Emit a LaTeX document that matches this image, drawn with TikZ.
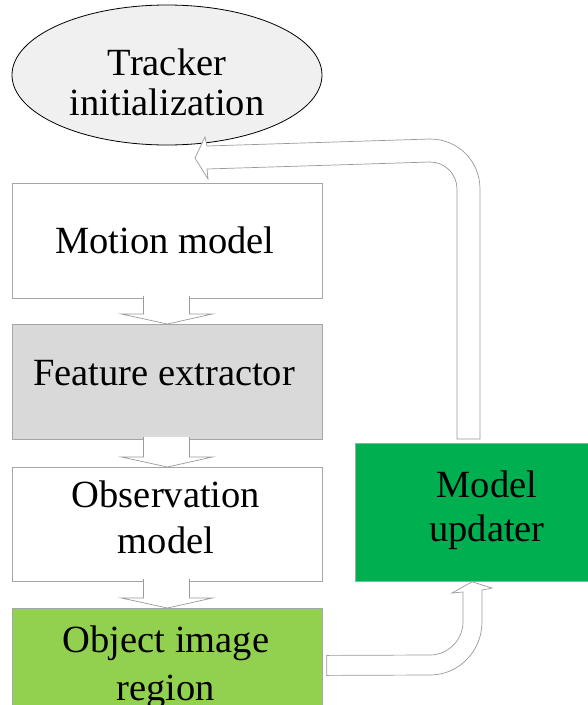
\documentclass[tikz,border=0pt]{standalone}
\usepackage{fontspec}
\setmainfont{Liberation Serif}
\usetikzlibrary{calc,shapes.geometric}
\pgfdeclarelayer{bg}
\pgfsetlayers{bg,main}
\definecolor{boxgray}{HTML}{A6A6A6}
\definecolor{arrgray}{HTML}{9A9A9A}
\definecolor{featfill}{HTML}{D9D9D9}
\definecolor{objfill}{HTML}{92D050}
\definecolor{updfill}{HTML}{00B050}
\definecolor{ellfill}{HTML}{F0F0F0}
\newcommand\blockdown[2]{%
  \draw[barrow] ($(#1.south)+(-24,-3)$) -- ($(#2.north)+(-24,-10)$) -- ($(#2.north)+(-46,-10)$)
    -- (#2.north) -- ($(#2.north)+(45,-10)$) -- ($(#2.north)+(22,-10)$) -- ($(#1.south)+(22,-3)$);}
\begin{document}
\begin{tikzpicture}[x=1pt,y=-1pt,
  box/.style={draw=boxgray, line width=0.8pt, minimum width=310pt, inner sep=0pt, anchor=north west},
  barrow/.style={draw=arrgray, fill=white, line width=0.7pt, line join=miter},
  txt/.style={font=\fontsize{38.5}{46}\selectfont, anchor=base, inner sep=0pt}]
\useasboundingbox (0,0) rectangle (588,705);
\clip (0,0) rectangle (588,705);
\fill[white] (0,0) rectangle (588,705);
% shapes
\node[ellipse, draw=black, line width=0.8pt, fill=ellfill, minimum width=310pt, minimum height=140pt, inner sep=0pt] (init) at (167,75) {};
\node[box, fill=white, minimum height=115pt] (motion) at (12,183) {};
\node[box, fill=featfill, minimum height=115pt] (feat) at (12,324) {};
\node[box, fill=white, minimum height=114pt] (obs) at (12,467) {};
\node[box, fill=objfill, minimum height=120pt] (obj) at (12,608) {};
\node[draw=boxgray, line width=0.8pt, fill=updfill, minimum width=264pt, minimum height=138pt, inner sep=0pt, anchor=north west] (upd) at (355,443) {};
% texts
\node[txt] (t1a) at (167,75) {Tracker};
\node[txt] (t1b) at (167,115) {initialization};
\node[txt] (t2) at (165,253) {Motion model};
\node[txt] (t3) at (164,385) {Feature extractor};
\node[txt] (t4a) at (166,507) {Observation};
\node[txt] (t4b) at (166,553) {model};
\node[txt] (t5a) at (166,652) {Object image};
\node[txt] (t5b) at (166,700) {region};
\node[txt] (t6a) at (487,497) {Model};
\node[txt] (t6b) at (487,541) {updater};
% block arrows
\begin{pgfonlayer}{bg}
\blockdown{init}{motion}
\end{pgfonlayer}
\blockdown{motion}{feat}
\blockdown{feat}{obs}
\blockdown{obs}{obj}
% feedback arrow: model updater -> tracker initialization
\coordinate (fbtip) at (195,158);
\draw[barrow] ($(upd.north west)+(102,-4)$) -- (457,189) .. controls (457,174) and (445,162) .. (430,162)
  -- (207,169) -- (208,179) -- (fbtip) -- (205,137) -- (207,146) -- (430,139)
  .. controls (458,139) and (480,161) .. (480,189) -- ($(upd.north west)+(125,-4)$) -- cycle;
% object image region -> model updater
\coordinate (uptip) at ($(upd.south west)+(117,0)$);
\draw[barrow] ($(obj.east)+(4,-13)$) -- (430,655) .. controls (448,655) and (463,640) .. (463,622)
  -- (463,592) -- (452,593) -- (uptip) -- (492,588) -- (482,590) -- (482,622)
  .. controls (482,651) and (459,675) .. (430,675) -- ($(obj.east)+(4,7)$) -- cycle;
\end{tikzpicture}
\end{document}
